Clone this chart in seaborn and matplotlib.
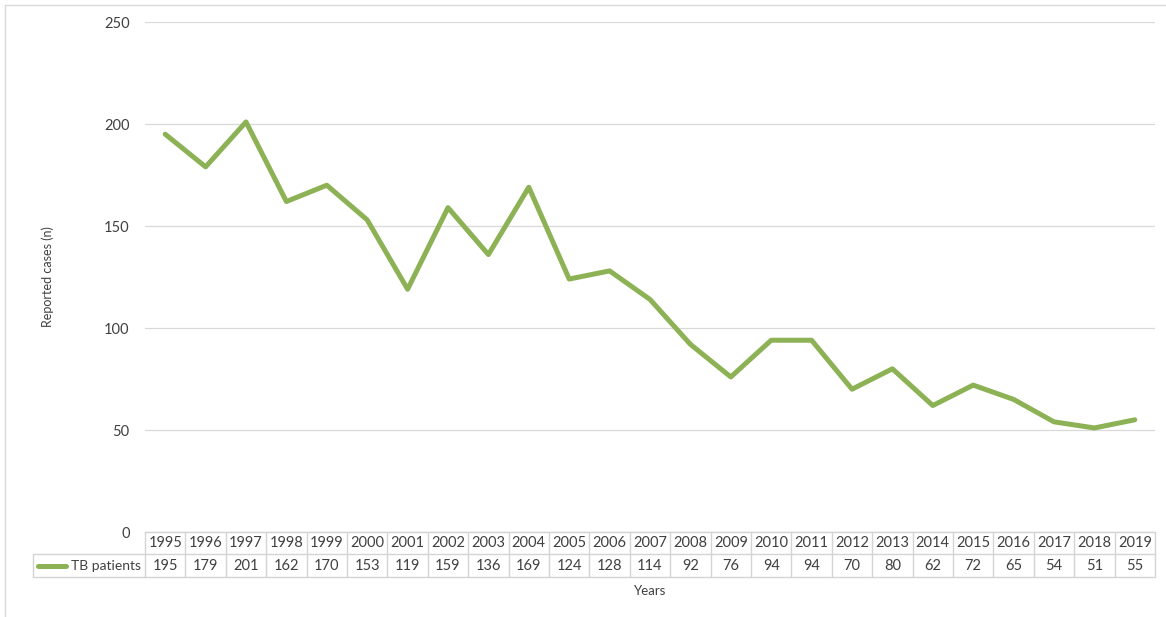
import matplotlib
matplotlib.use("Agg")
import matplotlib.pyplot as plt
import seaborn as sns
import pandas as pd
from matplotlib.lines import Line2D

years = [str(y) for y in range(1995, 2020)]
tb_patients = [195, 179, 201, 162, 170, 153, 119, 159, 136, 169, 124, 128, 114,
               92, 76, 94, 94, 70, 80, 62, 72, 65, 54, 51, 55]
series_name = "TB patients"
y_ticks = [0, 50, 100, 150, 200, 250]

sns.set_theme(style="white")
plt.rcParams['font.family'] = ['Lato', 'DejaVu Sans']

LINE_C = "#8DB255"
TXT_C = "#404040"
GRID_C = "#D9D9D9"

df = pd.DataFrame({"Year": years, "Cases": tb_patients})

fig = plt.figure(figsize=(11.66, 6.17), dpi=100)
ax = fig.add_axes([145/1166, 1 - 532/617, (1155 - 145)/1166, (532 - 22)/617])

sns.lineplot(data=df, x="Year", y="Cases", ax=ax, color=LINE_C, linewidth=3.6,
             sort=False)
ax.set_xlim(-0.5, len(years) - 0.5)
ax.set_ylim(0, 250)
ax.set_yticks(y_ticks)
ax.set_yticklabels([str(t) for t in y_ticks], fontsize=10.5, color=TXT_C)
ax.tick_params(axis="y", length=0, pad=11)
ax.set_xticks([])
ax.set_xlabel("")
ax.set_ylabel("Reported cases (n)", fontsize=9, color=TXT_C, labelpad=36)
ax.grid(axis="y", color=GRID_C, linewidth=0.9)
ax.set_axisbelow(True)
for s in ax.spines.values():
    s.set_visible(False)

# data table below the plot (axes-fraction y, data x)
tr = ax.get_xaxis_transform()
h_ax = (532 - 22)
r1 = -(554 - 532) / h_ax
r2 = -(577 - 532) / h_ax
xl, xr = -0.5, len(years) - 0.5
tc = "#D4D4D4"
for yv in [0, r1, r2]:
    ax.add_line(Line2D([xl, xr], [yv, yv], transform=tr, color=tc, lw=1, clip_on=False))
for i in range(len(years) + 1):
    ax.add_line(Line2D([i - 0.5, i - 0.5], [0, r2], transform=tr, color=tc, lw=1, clip_on=False))
cw = (1155 - 145) / len(years)
lab_left = -0.5 - (145 - 33) / cw
ax.add_line(Line2D([lab_left, xl], [r1, r1], transform=tr, color=tc, lw=1, clip_on=False))
ax.add_line(Line2D([lab_left, xl], [r2, r2], transform=tr, color=tc, lw=1, clip_on=False))
ax.add_line(Line2D([lab_left, lab_left], [r1, r2], transform=tr, color=tc, lw=1, clip_on=False))

for i, (yr, v) in enumerate(zip(years, tb_patients)):
    ax.text(i, (0 + r1) / 2, yr, transform=tr, ha="center", va="center",
            fontsize=10.5, color=TXT_C, clip_on=False)
    ax.text(i, (r1 + r2) / 2, str(v), transform=tr, ha="center", va="center",
            fontsize=10.5, color=TXT_C, clip_on=False)

ax.add_line(Line2D([-0.5 - (145 - 38) / cw, -0.5 - (145 - 66) / cw], [(r1 + r2) / 2] * 2,
                   transform=tr, color=LINE_C, lw=3.6, clip_on=False,
                   solid_capstyle="round"))
ax.text(-0.5 - 4 / cw, (r1 + r2) / 2, series_name, transform=tr, ha="right", va="center",
        fontsize=10, color=TXT_C, clip_on=False)

ax.text((xl + xr) / 2, -(591 - 532) / h_ax, "Years", transform=tr, ha="center",
        va="center", fontsize=9.5, color=TXT_C, clip_on=False)

# chart area border (left and top visible)
fig.add_artist(Line2D([5/1166, 5/1166], [0, 1 - 5/617], transform=fig.transFigure,
                      color="#D9D9D9", lw=1))
fig.add_artist(Line2D([5/1166, 1], [1 - 5/617, 1 - 5/617], transform=fig.transFigure,
                      color="#D9D9D9", lw=1))

fig.savefig("out.png", dpi=100, facecolor="white")
